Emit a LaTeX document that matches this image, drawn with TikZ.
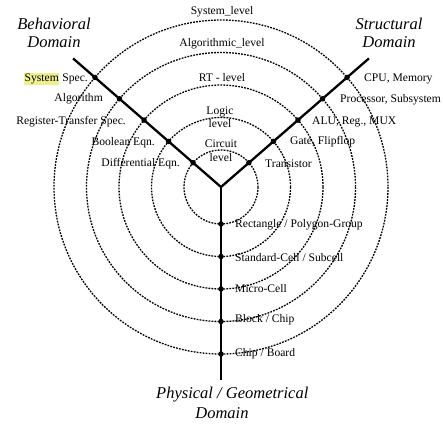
\documentclass[tikz,border=0pt]{standalone}
\usepackage{fontspec}
\setmainfont{Liberation Serif}
\usetikzlibrary{calc}
\definecolor{hl}{HTML}{EEF08C}
\begin{document}
\begin{tikzpicture}[x=1pt,y=-1pt,
  axis/.style={line width=2.3pt},
  ring/.style={line width=1.3pt,dash pattern=on 1.8pt off 1.2pt},
  levelmark/.style={circle,fill=black,inner sep=0pt,minimum size=5.5pt},
  lab/.style={font=\fontsize{11.6}{13}\selectfont,inner sep=0pt},
  lvl/.style={font=\fontsize{11.6}{13}\selectfont,inner sep=0pt,align=center},
  dom/.style={font=\fontsize{16.5}{18}\selectfont\itshape,inner sep=0pt,align=center}]
\useasboundingbox (0,0) rectangle (443,424);
\fill[white] (0,0) rectangle (443,424);

% centre of the Y-chart and the free ends of its three axes (y grows downward)
\coordinate (O) at (221,187);
\coordinate (B) at ($(O)+(-139:196)$);
\coordinate (S) at ($(O)+(-41:196)$);
\coordinate (P) at (221,380);

% abstraction levels as concentric rings
\foreach \rad in {37,69.5,102,134.5,167}
  \draw[ring] (O) circle[radius=\rad];

% the three domain axes
\draw[axis] (O) -- (B);
\draw[axis] (O) -- (S);
\draw[axis] (O) -- (P);

% level marks on each axis
\foreach \rad/\k in {37/1,69.5/2,102/3,134.5/4,167/5}{
  \node[levelmark] (b\k) at ($(O)+(-139:\rad)$) {};
  \node[levelmark] (s\k) at ($(O)+(-41:\rad)$) {};
  \node[levelmark] (p\k) at ($(O)+(0,\rad)$) {};
}

% domain titles
\node[dom] (tb) at (54,33) {Behavioral\\Domain};
\node[dom] (ts) at (389,33) {Structural\\Domain};
\node[dom,anchor=west] (tp1) at (156,395) {Physical / Geometrical};
\node[dom] (tp2) at (222,413) {Domain};

% level names
\node[lvl] (l5) at (222,12) {System\_level};
\node[lvl] (l4) at (222,44) {Algorithmic\_level};
\node[lvl] (l3) at (222,78) {RT - level};
\node[lvl] (l2) at (220,117) {Logic\\[0pt]level};
\node[lvl] (l1) at (221,151) {Circuit\\[1pt]level};

% behavioral domain
\node[lab,anchor=east] (nb5) at (88,79) {{\setlength\fboxsep{0.6pt}\colorbox{hl}{System}} Spec.};
\node[lab,anchor=east] (nb4) at (103,99) {Algorithm};
\node[lab,anchor=east] (nb3) at (126,122) {Register-Transfer Spec.};
\node[lab,anchor=east] (nb2) at (155,143) {Boolean Eqn.};
\node[lab,anchor=east] (nb1) at (180,164) {Differential Eqn.};

% structural domain
\node[lab,anchor=west] (ns5) at (364,79) {CPU, Memory};
\node[lab,anchor=west] (ns4) at (340,100) {Processor, Subsystem};
\node[lab,anchor=west] (ns3) at (312,122) {ALU, Reg., MUX};
\node[lab,anchor=west] (ns2) at (290,142) {Gate, Flipflop};
\node[lab,anchor=west] (ns1) at (265,164) {Transistor};

% physical domain
\node[lab,anchor=west] (np1) at (235,225) {Rectangle / Polygon-Group};
\node[lab,anchor=west] (np2) at (235,258) {Standard-Cell / Subcell};
\node[lab,anchor=west] (np3) at (235,289) {Micro-Cell};
\node[lab,anchor=west] (np4) at (235,320) {Block / Chip};
\node[lab,anchor=west] (np5) at (235,354) {Chip / Board};
\end{tikzpicture}
\end{document}
